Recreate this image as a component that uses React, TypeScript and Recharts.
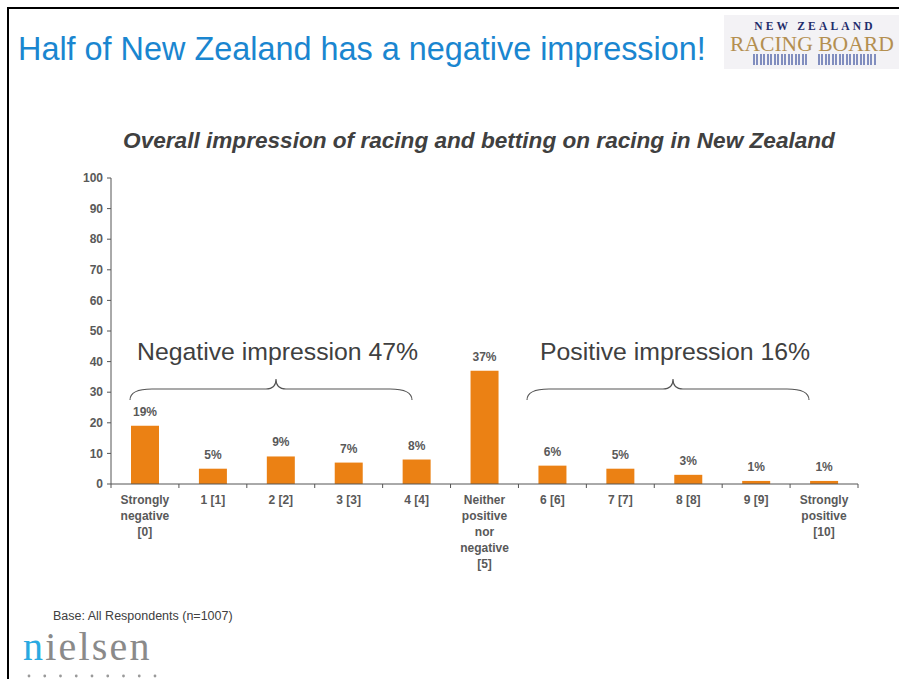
import React from 'react';
import { BarChart, Bar, XAxis, YAxis, LabelList } from 'recharts';

const categories = [
  'Strongly\nnegative\n[0]',
  '1 [1]',
  '2 [2]',
  '3 [3]',
  '4 [4]',
  'Neither\npositive\nnor\nnegative\n[5]',
  '6 [6]',
  '7 [7]',
  '8 [8]',
  '9 [9]',
  'Strongly\npositive\n[10]',
];
const values = [19, 5, 9, 7, 8, 37, 6, 5, 3, 1, 1];
const yTicks = [0, 10, 20, 30, 40, 50, 60, 70, 80, 90, 100];

const pageTitle = 'Half of New Zealand has a negative impression!';
const chartTitle = 'Overall impression of racing and betting on racing in New Zealand';
const negativeNote = 'Negative impression 47%';
const positiveNote = 'Positive impression 16%';
const baseNote = 'Base: All Respondents (n=1007)';

const data = categories.map((c, i) => ({ category: c, value: values[i] }));

const SANS = "'Liberation Sans', Arial, Helvetica, sans-serif";
const SERIF = "'Liberation Serif', 'Times New Roman', serif";
const AXIS = '#555555';
const LABEL = '#595959';

const XTick = (props: any) => {
  const { x, y, payload, index } = props;
  const half = payload && payload.offset ? payload.offset : 747 / 11 / 2;
  const lines = String(payload.value).split('\n');
  return (
    <g>
      <line x1={x + half} y1={y} x2={x + half} y2={y + 4} stroke={AXIS} strokeWidth={1} />
      {index === 0 && <line x1={x - half} y1={y} x2={x - half} y2={y + 4} stroke={AXIS} strokeWidth={1} />}
      {lines.map((l, i) => (
        <text
          key={i}
          x={x}
          y={y + 20 + i * 16}
          textAnchor="middle"
          fontFamily={SANS}
          fontWeight="bold"
          fontSize={12}
          fill={LABEL}
        >
          {l}
        </text>
      ))}
    </g>
  );
};

const brace = (x0: number, peak: number, x1: number) =>
  `M ${x0} 400 Q ${x0} 389 ${x0 + 22} 389 L ${peak - 10} 389 Q ${peak} 389 ${peak} 379 Q ${peak} 389 ${peak + 10} 389 L ${x1 - 22} 389 Q ${x1} 389 ${x1} 400`;

export default function App() {
  return (
    <div
      style={{
        position: 'absolute',
        left: 0,
        top: 0,
        width: 899,
        height: 679,
        overflow: 'hidden',
        background: '#ffffff',
      }}
    >
      <div
        style={{
          position: 'absolute',
          left: 7,
          top: 7,
          width: 900,
          height: 700,
          borderTop: '2px solid #000',
          borderLeft: '2px solid #000',
        }}
      />

      {/* Racing board logo */}
      <div
        style={{
          position: 'absolute',
          left: 724,
          top: 15,
          width: 175,
          height: 54,
          background: '#f3f2f5',
        }}
      />
      <div
        style={{
          position: 'absolute',
          left: 753,
          top: 54,
          width: 54,
          height: 11,
          background:
            'repeating-linear-gradient(90deg, #6d7cb5 0px, #6d7cb5 2px, transparent 2px, transparent 3.5px)',
          opacity: 0.85,
        }}
      />
      <div
        style={{
          position: 'absolute',
          left: 818,
          top: 54,
          width: 58,
          height: 11,
          background:
            'repeating-linear-gradient(90deg, #6d7cb5 0px, #6d7cb5 2px, transparent 2px, transparent 3.5px)',
          opacity: 0.85,
        }}
      />

      <div style={{ position: 'absolute', left: 0, top: 0 }}>
        <BarChart
          width={899}
          height={679}
          data={data}
          margin={{ top: 178, right: 41, bottom: 95, left: 51 }}
          barSize={28}
        >
          <XAxis
            dataKey="category"
            interval={0}
            height={100}
            tickLine={false}
            tickSize={0}
            tickMargin={0}
            axisLine={{ stroke: AXIS, strokeWidth: 1 }}
            tick={<XTick />}
          />
          <YAxis
            width={60}
            domain={[0, 100]}
            ticks={yTicks}
            interval={0}
            tickSize={4}
            tickMargin={4}
            axisLine={{ stroke: AXIS, strokeWidth: 1 }}
            tickLine={{ stroke: AXIS, strokeWidth: 1 }}
            tick={{ fontFamily: SANS, fontWeight: 'bold', fontSize: 12, fill: LABEL }}
          />
          <Bar dataKey="value" fill="#eb8114" isAnimationActive={false}>
            <LabelList
              dataKey="value"
              position="top"
              offset={10}
              formatter={(v: any) => `${v}%`}
              style={{ fontFamily: SANS, fontWeight: 'bold', fontSize: 12, fill: LABEL }}
            />
          </Bar>
        </BarChart>
      </div>

      <svg
        width={899}
        height={679}
        style={{ position: 'absolute', left: 0, top: 0, pointerEvents: 'none' }}
      >
        <text x={18} y={60} fontFamily={SANS} fontSize={32.4} fill="#1a86d0">
          {pageTitle}
        </text>
        <text
          x={815}
          y={29.5}
          textAnchor="middle"
          fontFamily={SERIF}
          fontWeight="bold"
          fontSize={11.5}
          letterSpacing={3.2}
          fill="#1f2d6b"
        >
          NEW ZEALAND
        </text>
        <text x={730} y={51} fontFamily={SERIF} fontSize={21.6} fill="#b48f50">
          RACING BOARD
        </text>
        <text
          x={479}
          y={148}
          textAnchor="middle"
          fontFamily={SANS}
          fontWeight="bold"
          fontStyle="italic"
          fontSize={22.6}
          fill="#404040"
        >
          {chartTitle}
        </text>
        <text x={137} y={360} fontFamily={SANS} fontSize={24.8} fill="#404040">
          {negativeNote}
        </text>
        <text x={540} y={360} fontFamily={SANS} fontSize={24.8} fill="#404040">
          {positiveNote}
        </text>
        <path d={brace(130, 276, 412)} fill="none" stroke="#555" strokeWidth={1.1} />
        <path d={brace(527, 673, 809)} fill="none" stroke="#555" strokeWidth={1.1} />
        <text x={53} y={620} fontFamily={SANS} fontSize={12.5} fill="#404040">
          {baseNote}
        </text>
        <text x={23} y={660} fontFamily={SERIF} fontSize={40} letterSpacing={2.2}>
          <tspan fill="#29a9e1">n</tspan>
          <tspan fill="#8a8a8a">ielsen</tspan>
        </text>
        {[0, 1, 2, 3, 4, 5, 6, 7, 8].map((i) => (
          <circle key={i} cx={29 + i * 15.75} cy={676} r={1.4} fill="#9a9a9a" />
        ))}
      </svg>
    </div>
  );
}
